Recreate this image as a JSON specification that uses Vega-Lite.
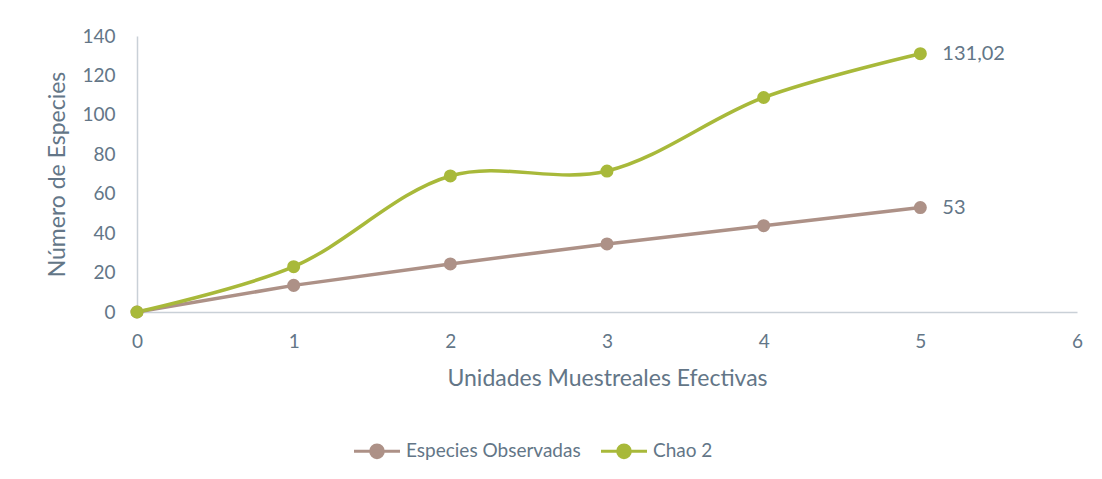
{
  "$schema": "https://vega.github.io/schema/vega-lite/v6.json",
  "width": 940,
  "height": 276,
  "autosize": "none",
  "padding": {"left": 137, "top": 36, "right": 25, "bottom": 167},
  "background": "white",
  "config": {
    "view": {"stroke": null},
    "font": "Lato",
    "axis": {"grid": false, "ticks": false, "domainColor": "#C9D0D7", "domainWidth": 1.5, "labelColor": "#637687", "titleColor": "#637687", "labelFont": "Lato", "titleFont": "Lato", "labelFontSize": 19, "titleFontSize": 23, "titleFontWeight": "normal"}
  },
  "data": {"values": [
    {"x": 0, "y": 0, "serie": "Especies Observadas"},
    {"x": 1, "y": 13.5, "serie": "Especies Observadas"},
    {"x": 2, "y": 24.4, "serie": "Especies Observadas"},
    {"x": 3, "y": 34.5, "serie": "Especies Observadas"},
    {"x": 4, "y": 43.8, "serie": "Especies Observadas"},
    {"x": 5, "y": 53, "serie": "Especies Observadas", "label": "53"},
    {"x": 0, "y": 0, "serie": "Chao 2"},
    {"x": 1, "y": 23, "serie": "Chao 2"},
    {"x": 2, "y": 69, "serie": "Chao 2"},
    {"x": 3, "y": 71.5, "serie": "Chao 2"},
    {"x": 4, "y": 108.8, "serie": "Chao 2"},
    {"x": 5, "y": 131.02, "serie": "Chao 2", "label": "131,02"}
  ]},
  "encoding": {
    "x": {"field": "x", "type": "quantitative", "scale": {"domain": [0, 6], "nice": false}, "axis": {"values": [0,1,2,3,4,5,6], "title": "Unidades Muestreales Efectivas", "labelPadding": 20, "titlePadding": 16, "labelFlush": false}},
    "y": {"field": "y", "type": "quantitative", "scale": {"domain": [0, 140], "nice": false}, "axis": {"values": [0,20,40,60,80,100,120,140], "title": "Número de Especies", "labelPadding": 22, "titlePadding": 12}},
    "color": {"field": "serie", "type": "nominal", "scale": {"domain": ["Especies Observadas", "Chao 2"], "range": ["#AD9187", "#A8B93A"]},
      "legend": {"title": null, "orient": "none", "direction": "horizontal", "legendX": 227, "legendY": 402, "symbolType": "M -2 0 L 2 0 M -0.55 0 A 0.55 0.55 0 1 1 0.55 0 A 0.55 0.55 0 1 1 -0.55 0", "symbolSize": 529, "symbolStrokeWidth": 3, "labelFont": "Lato", "labelFontSize": 19, "labelColor": "#637687", "labelOffset": 16, "labelLimit": 0, "columnPadding": 14, "symbolOpacity": 1}}
  },
  "layer": [
    {"mark": {"type": "line", "strokeWidth": 3.5}, "transform": [{"filter": "datum.serie == 'Especies Observadas'"}]},
    {"mark": {"type": "line", "strokeWidth": 3.5, "interpolate": "catmull-rom"}, "transform": [{"filter": "datum.serie == 'Chao 2'"}]},
    {"mark": {"type": "point", "filled": true, "opacity": 1, "size": 170}},
    {"mark": {"type": "text", "align": "left", "dx": 22, "fontSize": 20, "font": "Lato"}, "transform": [{"filter": "isValid(datum.label)"}], "encoding": {"text": {"field": "label"}, "color": {"value": "#637687"}}}
  ]
}
